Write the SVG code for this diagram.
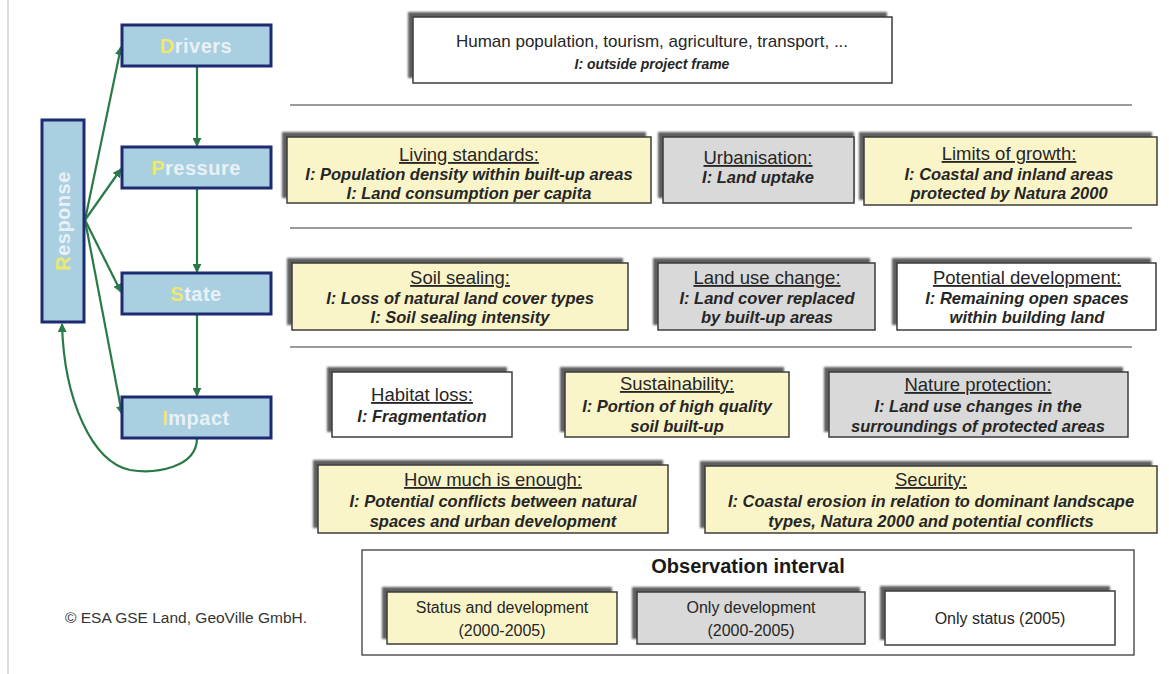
<svg xmlns="http://www.w3.org/2000/svg" width="1169" height="674" viewBox="0 0 1169 674">
<defs>
<style>
.dp{fill:#a9cfe0;stroke:#1e2a72;stroke-width:3}
.dpt{font-family:"Liberation Sans",Arial,sans-serif;font-weight:bold;font-size:20px;fill:#e8f1f6;letter-spacing:0.5px}
.y1{fill:#eee86e}
.sh{fill:#5e5e5e;filter:url(#blur)}
.bx{stroke:#3c3c3c;stroke-width:1.5}
.yel{fill:#faf5c9}
.gry{fill:#d9d9d9}
.wht{fill:#ffffff}
.hd{font-family:"Liberation Sans",Arial,sans-serif;font-size:18.5px;fill:#262626;text-anchor:middle;text-decoration:underline}
.bi{font-family:"Liberation Sans",Arial,sans-serif;font-size:16.5px;font-weight:bold;font-style:italic;fill:#262626;text-anchor:middle}
.rg{font-family:"Liberation Sans",Arial,sans-serif;font-size:16px;fill:#262626;text-anchor:middle}
.sep{stroke:#7a7a7a;stroke-width:1.5}
.con{fill:none;stroke:#2a7a48;stroke-width:2.2}
</style>
<filter id="blur" x="-5%" y="-10%" width="110%" height="120%"><feGaussianBlur stdDeviation="1.2"/></filter>
<marker id="ah" viewBox="0 0 10 10" refX="9" refY="5" markerWidth="9" markerHeight="9" orient="auto" markerUnits="userSpaceOnUse">
<path d="M0,0 L10,5 L0,10 z" fill="#2a7a48"/>
</marker>
</defs>
<rect x="0" y="0" width="1169" height="674" fill="#ffffff"/>
<line x1="8" y1="0" x2="8" y2="674" stroke="#cfcfcf" stroke-width="1.5"/>

<!-- separators -->
<line class="sep" x1="290" y1="105" x2="1132" y2="105"/>
<line class="sep" x1="290" y1="228" x2="1132" y2="228"/>
<line class="sep" x1="290" y1="347" x2="1132" y2="347"/>

<!-- connectors -->
<g id="connectors">
<path class="con" d="M85,220 L121,47" marker-end="url(#ah)"/>
<path class="con" d="M85,220 L121,169" marker-end="url(#ah)"/>
<path class="con" d="M85,220 L121,292" marker-end="url(#ah)"/>
<path class="con" d="M85,220 L122,414" marker-end="url(#ah)"/>
<path class="con" d="M197,66 L197,146" marker-end="url(#ah)"/>
<path class="con" d="M197,188 L197,272" marker-end="url(#ah)"/>
<path class="con" d="M197,314 L197,396" marker-end="url(#ah)"/>
<path class="con" d="M197,438 C197,468 155,474 130,470 C92,462 64,400 62,324" marker-end="url(#ah)"/>
</g>

<!-- DPSIR boxes -->
<g id="drivers"><rect class="dp" x="122" y="25" width="149" height="41"/><text class="dpt" x="196" y="53" text-anchor="middle"><tspan class="y1">D</tspan>rivers</text></g>
<g id="pressure"><rect class="dp" x="122" y="147" width="149" height="41"/><text class="dpt" x="196" y="175" text-anchor="middle"><tspan class="y1">P</tspan>ressure</text></g>
<g id="state"><rect class="dp" x="122" y="273" width="149" height="41"/><text class="dpt" x="196" y="301" text-anchor="middle"><tspan class="y1">S</tspan>tate</text></g>
<g id="impact"><rect class="dp" x="122" y="397" width="149" height="41"/><text class="dpt" x="196" y="425" text-anchor="middle"><tspan class="y1">I</tspan>mpact</text></g>
<g id="response"><rect class="dp" x="42" y="120" width="42" height="202"/><text class="dpt" transform="translate(70,221) rotate(-90)" text-anchor="middle"><tspan class="y1">R</tspan>esponse</text></g>

<!-- top box -->
<g id="top"><rect class="sh" x="408" y="12" width="479" height="66"/><rect class="bx wht" x="413" y="17" width="479" height="66"/>
<text class="rg" x="652" y="47" style="font-size:17px">Human population, tourism, agriculture, transport, ...</text>
<text class="bi" x="652" y="69" style="font-size:14px">I: outside project frame</text></g>

<!-- pressure row -->
<g id="living"><rect class="sh" x="282" y="132" width="364" height="66"/><rect class="bx yel" x="287" y="137" width="364" height="66"/>
<text class="hd" x="469" y="161">Living standards:</text>
<text class="bi" x="469" y="180">I: Population density within built-up areas</text>
<text class="bi" x="469" y="199">I: Land consumption per capita</text></g>
<g id="urbanisation"><rect class="sh" x="658" y="132" width="196" height="66"/><rect class="bx gry" x="663" y="137" width="191" height="66"/>
<text class="hd" x="758" y="164">Urbanisation:</text>
<text class="bi" x="758" y="183">I: Land uptake</text></g>
<g id="limits"><rect class="sh" x="859" y="132" width="293" height="68"/><rect class="bx yel" x="864" y="137" width="293" height="68"/>
<text class="hd" x="1009" y="160">Limits of growth:</text>
<text class="bi" x="1009" y="180">I: Coastal and inland areas</text>
<text class="bi" x="1009" y="199">protected by Natura 2000</text></g>

<!-- state row -->
<g id="soil"><rect class="sh" x="287" y="258" width="336" height="67"/><rect class="bx yel" x="292" y="263" width="336" height="67"/>
<text class="hd" x="460" y="284">Soil sealing:</text>
<text class="bi" x="460" y="304">I: Loss of natural land cover types</text>
<text class="bi" x="460" y="323">I: Soil sealing intensity</text></g>
<g id="landuse"><rect class="sh" x="653" y="258" width="217" height="67"/><rect class="bx gry" x="658" y="263" width="217" height="67"/>
<text class="hd" x="767" y="284">Land use change:</text>
<text class="bi" x="767" y="304">I: Land cover replaced</text>
<text class="bi" x="767" y="323">by built-up areas</text></g>
<g id="potential"><rect class="sh" x="892" y="258" width="259" height="67"/><rect class="bx wht" x="897" y="263" width="259" height="67"/>
<text class="hd" x="1027" y="284">Potential development:</text>
<text class="bi" x="1027" y="304">I: Remaining open spaces</text>
<text class="bi" x="1027" y="323">within building land</text></g>

<!-- impact rows -->
<g id="habitat"><rect class="sh" x="327" y="367" width="180" height="65"/><rect class="bx wht" x="332" y="372" width="180" height="65"/>
<text class="hd" x="422" y="401">Habitat loss:</text>
<text class="bi" x="422" y="422">I: Fragmentation</text></g>
<g id="sustainability"><rect class="sh" x="560" y="367" width="224" height="65"/><rect class="bx yel" x="565" y="372" width="224" height="65"/>
<text class="hd" x="677" y="390">Sustainability:</text>
<text class="bi" x="677" y="412">I: Portion of high quality</text>
<text class="bi" x="677" y="432">soil built-up</text></g>
<g id="nature"><rect class="sh" x="824" y="367" width="299" height="65"/><rect class="bx gry" x="829" y="372" width="299" height="65"/>
<text class="hd" x="978" y="391">Nature protection:</text>
<text class="bi" x="978" y="412">I: Land use changes in the</text>
<text class="bi" x="978" y="432">surroundings of protected areas</text></g>
<g id="howmuch"><rect class="sh" x="313" y="460" width="350" height="68"/><rect class="bx yel" x="318" y="465" width="350" height="68"/>
<text class="hd" x="493" y="486">How much is enough:</text>
<text class="bi" x="493" y="507">I: Potential conflicts between natural</text>
<text class="bi" x="493" y="527">spaces and urban development</text></g>
<g id="security"><rect class="sh" x="700" y="461" width="452" height="67"/><rect class="bx yel" x="705" y="466" width="452" height="67"/>
<text class="hd" x="931" y="486">Security:</text>
<text class="bi" x="931" y="507">I: Coastal erosion in relation to dominant landscape</text>
<text class="bi" x="931" y="527">types, Natura 2000 and potential conflicts</text></g>

<!-- observation interval -->
<g id="observation"><rect x="362" y="550" width="772" height="105" fill="#ffffff" stroke="#555555" stroke-width="1.5"/>
<text x="748" y="573" font-family="Liberation Sans, Arial, sans-serif" font-size="20px" font-weight="bold" fill="#1a1a1a" text-anchor="middle">Observation interval</text></g>
<g id="statusdev"><rect class="sh" x="382" y="587" width="230" height="52"/><rect class="bx yel" x="387" y="592" width="230" height="52"/>
<text class="rg" x="502" y="613">Status and development</text>
<text class="rg" x="502" y="636">(2000-2005)</text></g>
<g id="onlydev"><rect class="sh" x="632" y="587" width="228" height="52"/><rect class="bx gry" x="637" y="592" width="228" height="52"/>
<text class="rg" x="751" y="613">Only development</text>
<text class="rg" x="751" y="636">(2000-2005)</text></g>
<g id="onlystatus"><rect class="sh" x="880" y="586" width="230" height="54"/><rect class="bx wht" x="885" y="591" width="230" height="54"/>
<text class="rg" x="1000" y="624">Only status (2005)</text></g>

<text x="65" y="623" font-family="Liberation Sans, Arial, sans-serif" font-size="15.5px" fill="#333333">© ESA GSE Land, GeoVille GmbH.</text>
</svg>
